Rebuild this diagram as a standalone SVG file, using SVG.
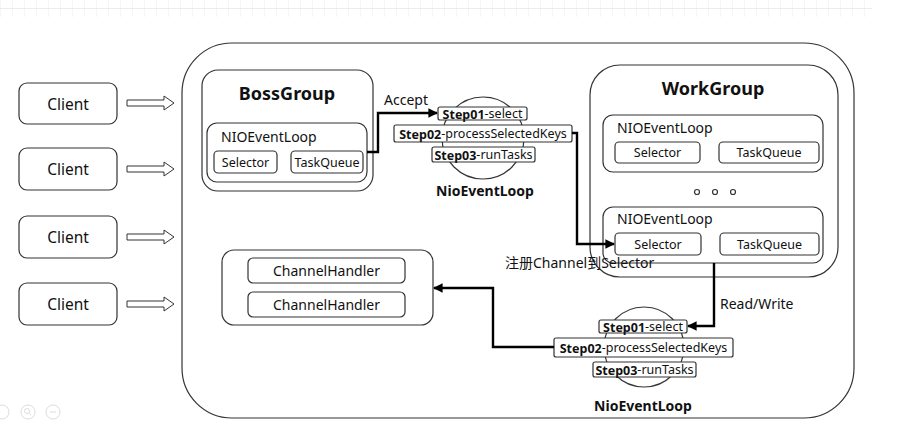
<svg xmlns="http://www.w3.org/2000/svg" width="908" height="437" viewBox="0 0 908 437">
<defs>
<style>
.box{fill:#fff;stroke:#333;stroke-width:1.2}
.t{font-family:"Noto Sans","Open Sans",sans-serif;fill:#111}
.c{text-anchor:middle;dominant-baseline:central}
.b{font-weight:bold}
.conn{fill:none;stroke:#000;stroke-width:2.4}
.hollow{fill:#fff;stroke:#333;stroke-width:1}
.ui{fill:none;stroke:#ddd;stroke-width:1}
</style>
<marker id="ah" viewBox="0 0 10 10" refX="9" refY="5" markerWidth="4" markerHeight="4" orient="auto" markerUnits="strokeWidth">
<path d="M0,0 L10,5 L0,10 z" fill="#000"/>
</marker>
<pattern id="grid" x="0" y="0" width="12" height="17" patternUnits="userSpaceOnUse">
<path d="M0,0 V17 M0,8.5 H12" stroke="#ececec" stroke-width="1" fill="none"/>
</pattern>
</defs>
<rect x="0" y="0" width="872" height="17" fill="url(#grid)"/>

<g id="outer"><rect class="box" x="182" y="43" width="672" height="375" rx="50"/></g>

<g id="client1"><rect class="box" x="19" y="83" width="98" height="41" rx="8"/><text class="t c" x="68" y="103.5" font-size="15.5">Client</text></g>
<g id="client2"><rect class="box" x="19" y="148" width="98" height="42" rx="8"/><text class="t c" x="68" y="169" font-size="15.5">Client</text></g>
<g id="client3"><rect class="box" x="19" y="216" width="98" height="42" rx="8"/><text class="t c" x="68" y="237" font-size="15.5">Client</text></g>
<g id="client4"><rect class="box" x="19" y="283" width="98" height="42" rx="8"/><text class="t c" x="68" y="304" font-size="15.5">Client</text></g>

<g id="bossgroup">
<rect class="box" x="202" y="70" width="171" height="121" rx="16"/>
<text class="t c b" x="287" y="93" font-size="18">BossGroup</text>
<rect class="box" x="207" y="123" width="160" height="59" rx="10"/>
<text class="t" x="221" y="142" font-size="14">NIOEventLoop</text>
<rect class="box" x="214" y="151" width="63" height="22" rx="4"/>
<text class="t c" x="245.5" y="162" font-size="12.5">Selector</text>
<rect class="box" x="291" y="151" width="72" height="22" rx="4"/>
<text class="t c" x="327" y="162" font-size="12.5">TaskQueue</text>
</g>

<g id="nioeventloop1">
<circle class="box" cx="483" cy="138" r="41"/>
<rect class="box" x="438" y="107" width="89" height="13" rx="2"/>
<text class="t c" x="482.5" y="113.5" font-size="12.5"><tspan class="b">Step01</tspan>-select</text>
<rect class="box" x="394" y="125" width="178" height="17" rx="2"/>
<text class="t c" x="483" y="133.5" font-size="12.5"><tspan class="b">Step02</tspan>-processSelectedKeys</text>
<rect class="box" x="432" y="147" width="103" height="15" rx="2"/>
<text class="t c" x="483.5" y="154.5" font-size="12.5"><tspan class="b">Step03</tspan>-runTasks</text>
<text class="t c b" x="485" y="190" font-size="14">NioEventLoop</text>
</g>

<g id="workgroup">
<rect class="box" x="590" y="65" width="248" height="212" rx="30"/>
<text class="t c b" x="713" y="88" font-size="18">WorkGroup</text>
<rect class="box" x="603" y="115" width="220" height="57" rx="10"/>
<text class="t" x="617" y="133" font-size="14">NIOEventLoop</text>
<rect class="box" x="615" y="142" width="85" height="21" rx="4"/>
<text class="t c" x="657.5" y="152.5" font-size="12.5">Selector</text>
<rect class="box" x="719" y="142" width="100" height="21" rx="4"/>
<text class="t c" x="769" y="152.5" font-size="12.5">TaskQueue</text>
<circle cx="697" cy="192" r="2.5" fill="none" stroke="#333" stroke-width="1.2"/>
<circle cx="715" cy="192" r="2.5" fill="none" stroke="#333" stroke-width="1.2"/>
<circle cx="733" cy="192" r="2.5" fill="none" stroke="#333" stroke-width="1.2"/>
<rect class="box" x="603" y="207" width="220" height="56" rx="10"/>
<text class="t" x="617" y="224" font-size="14">NIOEventLoop</text>
<rect class="box" x="615" y="233" width="86" height="22" rx="4"/>
<text class="t c" x="658" y="244" font-size="12.5">Selector</text>
<rect class="box" x="720" y="233" width="99" height="22" rx="4"/>
<text class="t c" x="769.5" y="244" font-size="12.5">TaskQueue</text>
</g>

<g id="handlers">
<rect class="box" x="222" y="250" width="211" height="75" rx="12"/>
<rect class="box" x="248" y="258" width="157" height="25" rx="5"/>
<text class="t c" x="326.5" y="270.5" font-size="14">ChannelHandler</text>
<rect class="box" x="248" y="292" width="157" height="25" rx="5"/>
<text class="t c" x="326.5" y="304.5" font-size="14">ChannelHandler</text>
</g>

<g id="nioeventloop2">
<circle class="box" cx="644" cy="347" r="40"/>
<rect class="box" x="599" y="320" width="88" height="13" rx="2"/>
<text class="t c" x="643" y="326.5" font-size="12.5"><tspan class="b">Step01</tspan>-select</text>
<rect class="box" x="554" y="338" width="179" height="19" rx="2"/>
<text class="t c" x="643.5" y="347.5" font-size="12.5"><tspan class="b">Step02</tspan>-processSelectedKeys</text>
<rect class="box" x="593" y="362" width="103" height="15" rx="2"/>
<text class="t c" x="644.5" y="369.5" font-size="12.5"><tspan class="b">Step03</tspan>-runTasks</text>
<text class="t c b" x="643" y="405" font-size="14">NioEventLoop</text>
</g>

<g id="connectors">
<path class="hollow" d="M127,100 H164 V96 L174,103 L164,110 V106 H127 z"/>
<path class="hollow" d="M127,166 H164 V162 L174,169 L164,176 V172 H127 z"/>
<path class="hollow" d="M127,234 H164 V230 L174,237 L164,244 V240 H127 z"/>
<path class="hollow" d="M127,301 H164 V297 L174,304 L164,311 V307 H127 z"/>
<path class="conn" d="M367,152 H378 V113 H437" marker-end="url(#ah)"/>
<path class="conn" d="M572,133 H577 V244 H614" marker-end="url(#ah)"/>
<path class="conn" d="M714,263 V326 H688" marker-end="url(#ah)"/>
<path class="conn" d="M554,347 H493 V288 H434" marker-end="url(#ah)"/>
<text class="t" x="384" y="105" font-size="14">Accept</text>
<text class="t" x="720" y="309" font-size="14">Read/Write</text>
<text x="505" y="268" font-size="14" font-family="'Noto Sans','Noto Sans CJK SC',sans-serif" fill="#111">注册Channel到Selector</text>
</g>

<g id="ui-icons">
<circle class="ui" cx="2" cy="412" r="7"/>
<circle class="ui" cx="28" cy="412" r="7"/>
<circle class="ui" cx="27" cy="411" r="2.5"/>
<path class="ui" d="M29,413 L31,415"/>
<circle class="ui" cx="53" cy="412" r="7"/>
<path class="ui" d="M50,412 H56"/>
</g>
</svg>
